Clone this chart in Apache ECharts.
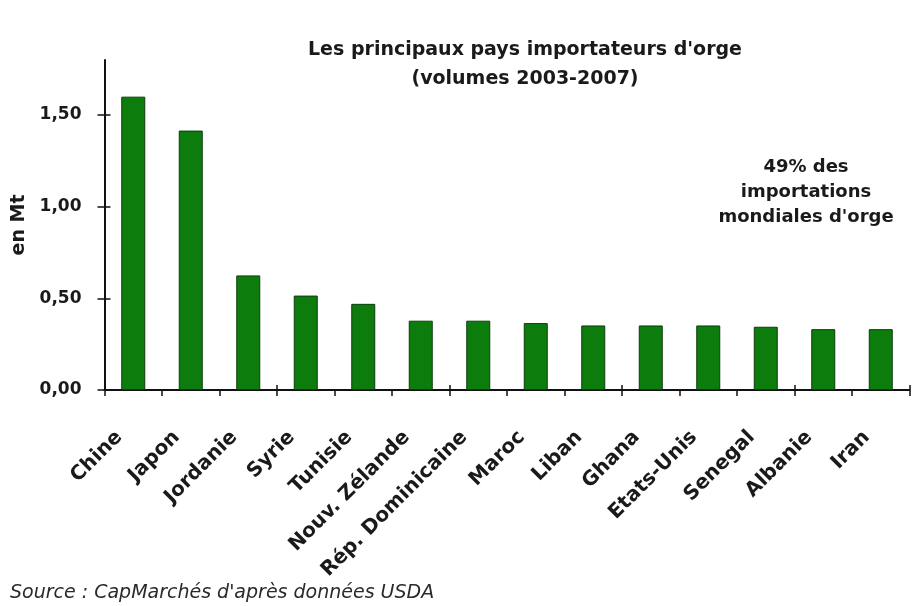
<!DOCTYPE html>
<html>
<head>
<meta charset="utf-8">
<script src="https://cdn.jsdelivr.net/npm/echarts@6/dist/echarts.min.js"></script>
<style>
  html, body { margin: 0; padding: 0; background: #ffffff; }
  #chart { width: 917px; height: 606px; }
</style>
</head>
<body>
<div id="chart"></div>
<script>
// Barley imports by country, 2003-2007 volumes (million tonnes)
const pays = ['Chine', 'Japon', 'Jordanie', 'Syrie', 'Tunisie', 'Nouv. Zélande',
  'Rép. Dominicaine', 'Maroc', 'Liban', 'Ghana', 'Etats-Unis', 'Senegal', 'Albanie', 'Iran'];
const volumes = [1.60, 1.415, 0.625, 0.515, 0.47, 0.378, 0.378, 0.365, 0.352, 0.352, 0.352, 0.345, 0.332, 0.332];
const yTicks = [0, 0.5, 1.0, 1.5];

const textColor = '#1a1a1a';
const font = 'DejaVu Sans';

const yFmt = v => v.toFixed(2).replace('.', ',');

const chart = echarts.init(document.getElementById('chart'), null, { renderer: 'canvas' });

const yBase = { type: 'value', min: 0, max: 1.8, splitLine: { show: false } };
const xBase = { type: 'category', data: pays, boundaryGap: true };
const axisInk = '#111';

chart.setOption({
  backgroundColor: '#ffffff',
  animation: false,
  title: [
    {
      text: "Les principaux pays importateurs d'orge\n(volumes 2003-2007)",
      left: 520, top: 31, textAlign: 'center',
      textStyle: { fontFamily: font, fontSize: 19, fontWeight: 'bold', color: textColor, lineHeight: 29 }
    },
    {
      text: "49% des\nimportations\nmondiales d'orge",
      left: 801, top: 150, textAlign: 'center',
      textStyle: { fontFamily: font, fontSize: 18, fontWeight: 'bold', color: textColor, lineHeight: 25 }
    },
    {
      text: "Source : CapMarchés d'après données USDA",
      left: 5, top: 579,
      textStyle: { fontFamily: font, fontSize: 19, fontStyle: 'italic', fontWeight: 'normal', color: '#2a2a2a' }
    }
  ],
  grid: { left: 104.5, right: 7.5, top: 60, bottom: 216, containLabel: false },
  xAxis: [
    Object.assign({}, xBase, {
      axisLine: { show: true, lineStyle: { color: axisInk, width: 2 } },
      axisTick: { show: true, inside: false, length: 6, lineStyle: { color: axisInk, width: 1.5 } },
      axisLabel: {
        rotate: 45, interval: 0, margin: 30, padding: [0, 20, 0, 0],
        fontFamily: font, fontSize: 20, fontWeight: 'bold', color: textColor
      }
    }),
    Object.assign({}, xBase, {
      position: 'bottom',
      axisLine: { show: false },
      axisTick: { show: true, inside: true, length: 5, lineStyle: { color: axisInk, width: 1.5 } },
      axisLabel: { show: false }
    })
  ],
  yAxis: [
    Object.assign({}, yBase, {
      name: 'en Mt', nameLocation: 'middle', nameRotate: 90, nameGap: 75,
      nameTextStyle: { fontFamily: font, fontSize: 19, fontWeight: 'bold', color: textColor },
      axisLine: { show: true, lineStyle: { color: axisInk, width: 2 } },
      axisTick: { show: true, length: 7, customValues: yTicks, lineStyle: { color: axisInk, width: 1.5 } },
      axisLabel: {
        customValues: yTicks, margin: 23, formatter: yFmt,
        fontFamily: font, fontSize: 17, fontWeight: 'bold', color: textColor
      }
    }),
    Object.assign({}, yBase, {
      position: 'left',
      axisLine: { show: false },
      axisTick: { show: true, inside: true, length: 6, customValues: yTicks, lineStyle: { color: axisInk, width: 1.5 } },
      axisLabel: { show: false }
    })
  ],
  series: [{
    type: 'bar',
    xAxisIndex: 0, yAxisIndex: 0,
    data: volumes,
    barWidth: 24,
    itemStyle: { color: '#0c7c0c', borderColor: '#0d3d0d', borderWidth: 1 }
  }]
});
</script>
</body>
</html>
